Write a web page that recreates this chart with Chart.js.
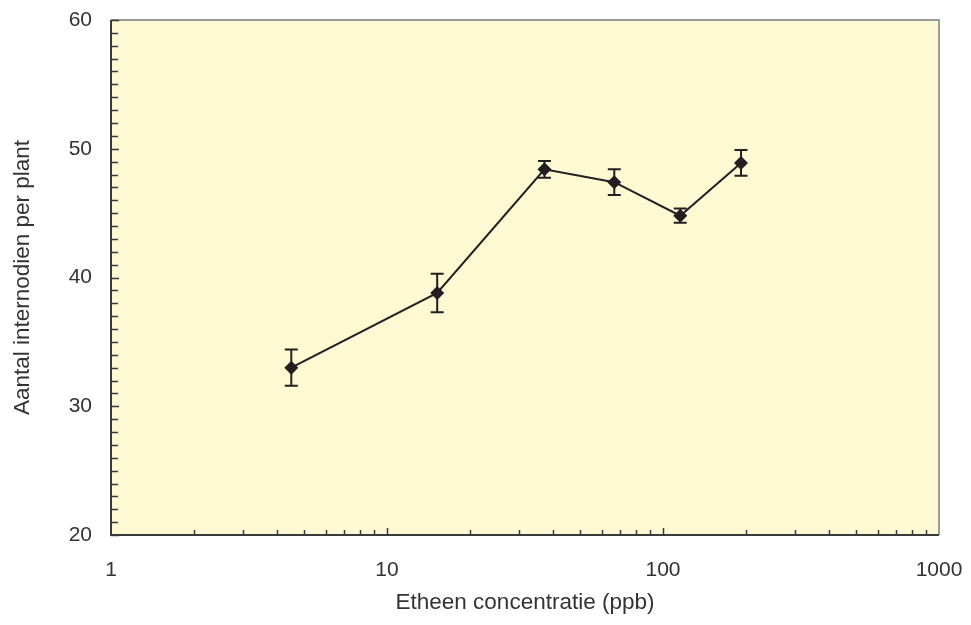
<!DOCTYPE html>
<html>
<head>
<meta charset="utf-8">
<script src="https://cdn.jsdelivr.net/npm/chart.js@4/dist/chart.umd.min.js"></script>
<style>
  html, body { margin: 0; padding: 0; background: #ffffff; }
  #wrap { width: 971px; height: 625px; position: relative; }
</style>
</head>
<body>
<div id="wrap"><canvas id="c" width="971" height="625"></canvas></div>
<script>
// ---- data ----
const concentrations = [4.5, 15.2, 37.2, 66.6, 115.5, 191.7];   // ppb
const internodes     = [33.0, 38.8, 48.4, 47.4, 44.8, 48.9];
const errors         = [1.4, 1.5, 0.65, 1.0, 0.55, 1.0];
const xTickValues    = [1, 10, 100, 1000];
const yTickValues    = [20, 30, 40, 50, 60];

const FONT = "'Liberation Sans', Arial, sans-serif";
const TEXT = '#333333';
const INK  = '#231f20';

const framePlugin = {
  id: 'frame',
  beforeDraw(chart) {
    const { ctx, chartArea: a } = chart;
    ctx.save();
    ctx.fillStyle = '#fdf9d3';
    ctx.fillRect(a.left, a.top, a.right - a.left, a.bottom - a.top);
    ctx.restore();
  },
  beforeDatasetsDraw(chart) {
    const { ctx, chartArea: a, scales } = chart;
    const xs = scales.x, ys = scales.y;
    ctx.save();
    ctx.lineWidth = 2;
    ctx.strokeStyle = '#9a9a9a';
    ctx.beginPath();
    ctx.moveTo(a.left, a.top); ctx.lineTo(a.right, a.top); ctx.lineTo(a.right, a.bottom);
    ctx.stroke();
    ctx.strokeStyle = '#3a3a3a';
    ctx.beginPath();
    ctx.moveTo(a.left, a.top); ctx.lineTo(a.left, a.bottom); ctx.lineTo(a.right, a.bottom);
    ctx.stroke();
    ctx.lineWidth = 1.5;
    ctx.strokeStyle = '#3a3a3a';
    ctx.beginPath();
    for (let v = ys.min; v <= ys.max; v += 1) {
      const y = Math.round(ys.getPixelForValue(v)) + 0.5;
      const len = (v % 10 === 0) ? 8 : 7;
      ctx.moveTo(a.left, y); ctx.lineTo(a.left + len, y);
    }
    for (let d = 1; d < xs.max; d *= 10) {
      for (let k = 1; k <= 10; k++) {
        const v = d * k;
        if (v <= xs.min || v >= xs.max) continue;
        const x = Math.round(xs.getPixelForValue(v)) + 0.5;
        const len = (k === 10 || k === 1) ? 7 : 5;
        ctx.moveTo(x, a.bottom); ctx.lineTo(x, a.bottom - len);
      }
    }
    ctx.stroke();
    ctx.lineWidth = 2;
    ctx.strokeStyle = INK;
    ctx.beginPath();
    concentrations.forEach((c, i) => {
      const x = xs.getPixelForValue(c);
      const yTop = ys.getPixelForValue(internodes[i] + errors[i]);
      const yBot = ys.getPixelForValue(internodes[i] - errors[i]);
      ctx.moveTo(x, yTop); ctx.lineTo(x, yBot);
      ctx.moveTo(x - 6.5, yTop); ctx.lineTo(x + 6.5, yTop);
      ctx.moveTo(x - 6.5, yBot); ctx.lineTo(x + 6.5, yBot);
    });
    ctx.stroke();
    ctx.restore();
  }
};

new Chart(document.getElementById('c'), {
  type: 'line',
  data: {
    datasets: [{
      data: concentrations.map((c, i) => ({ x: c, y: internodes[i] })),
      borderColor: INK,
      backgroundColor: INK,
      borderWidth: 2,
      pointStyle: 'rectRot',
      pointRadius: 7,
      pointBorderWidth: 0,
      pointHoverRadius: 7,
      tension: 0,
      fill: false
    }]
  },
  options: {
    responsive: false,
    animation: false,
    events: [],
    layout: { padding: { left: 0, right: 32, top: 20, bottom: 0 } },
    plugins: { legend: { display: false }, tooltip: { enabled: false } },
    scales: {
      x: {
        type: 'logarithmic',
        min: 1, max: 1000,
        grid: { display: false, drawTicks: false },
        border: { display: false },
        afterBuildTicks(scale) { scale.ticks = xTickValues.map(v => ({ value: v })); },
        afterFit(scale) { scale.height = 90; scale.paddingLeft = 0; scale.paddingRight = 0; },
        ticks: {
          color: TEXT, padding: 23,
          font: { family: FONT, size: 21 },
          maxRotation: 0,
          callback: (v) => String(v)
        },
        title: {
          display: true, text: 'Etheen concentratie (ppb)',
          color: TEXT, font: { family: FONT, size: 22.5 },
          padding: { top: 0, bottom: 9 }
        }
      },
      y: {
        type: 'linear',
        min: 20, max: 60,
        grid: { display: false, drawTicks: false },
        border: { display: false },
        afterBuildTicks(scale) { scale.ticks = yTickValues.map(v => ({ value: v })); },
        afterFit(scale) { scale.width = 111; scale.paddingTop = 0; scale.paddingBottom = 0; },
        ticks: {
          color: TEXT, padding: 19,
          font: { family: FONT, size: 21 }
        },
        title: {
          display: true, text: 'Aantal internodien per plant',
          color: TEXT, font: { family: FONT, size: 22.5 },
          padding: { top: 9, bottom: 0 }
        }
      }
    }
  },
  plugins: [framePlugin]
});
</script>
</body>
</html>
